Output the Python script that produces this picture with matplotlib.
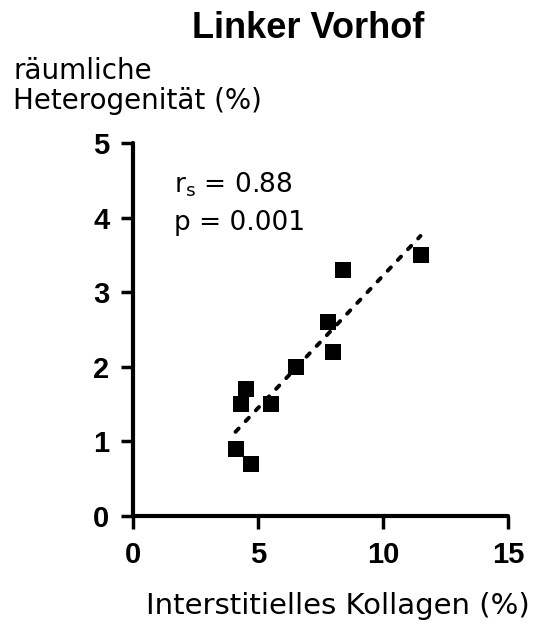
import numpy as np
import matplotlib
matplotlib.use('Agg')
import matplotlib.pyplot as plt

# Interstitial collagen (%) vs spatial heterogeneity (%), left atrium
kollagen = np.array([4.1, 4.7, 4.3, 4.5, 5.5, 6.5, 7.8, 8.0, 8.4, 11.5])
heterogenitaet = np.array([0.9, 0.7, 1.5, 1.7, 1.5, 2.0, 2.6, 2.2, 3.3, 3.5])

x_ticks = [0, 5, 10, 15]
y_ticks = [0, 1, 2, 3, 4, 5]

plt.rcParams['font.family'] = ['DejaVu Sans']

fig = plt.figure(figsize=(5.37, 6.26), dpi=100)
ax = fig.add_axes([0.2477, 0.1757, 0.6983, 0.5959])

# linear fit, drawn between smallest and largest x
slope, intercept = np.polyfit(kollagen, heterogenitaet, 1)
fit_x = np.array([kollagen.min(), kollagen.max()])
ax.plot(fit_x, slope * fit_x + intercept, color='black', lw=2.8,
        linestyle=(0, (1.2, 2.6)), dash_capstyle='round', zorder=2)

ax.plot(kollagen, heterogenitaet, 's', color='black', markersize=11,
        markeredgewidth=0, zorder=3, clip_on=False)

ax.set_xlim(0, 15)
ax.set_ylim(0, 5)
ax.set_xticks(x_ticks)
ax.set_yticks(y_ticks)

tick_font = {'family': 'Liberation Sans', 'weight': 'bold', 'size': 21}
ax.set_xticklabels([str(t) for t in x_ticks], fontdict=tick_font)
ax.set_yticklabels([str(t) for t in y_ticks], fontdict=tick_font)

for side in ['top', 'right']:
    ax.spines[side].set_visible(False)
for side in ['left', 'bottom']:
    ax.spines[side].set_linewidth(3)
    ax.spines[side].set_capstyle('round')
ax.tick_params(width=2.5, length=9, direction='out', pad=9)
ax.tick_params(axis='y', pad=8)

ax.text(1.65, 4.34, r'r$_\mathregular{s}$ = 0.88', fontsize=19, va='baseline')
ax.text(1.65, 3.84, 'p = 0.001', fontsize=19, va='baseline')

fig.text(0.574, 0.954, 'Linker Vorhof', fontsize=26, weight='bold',
         family='Liberation Sans', ha='center', va='center')
fig.text(0.025, 0.862, 'räumliche\nHeterogenität (%)', fontsize=20,
         ha='left', va='center', linespacing=1.1)
fig.text(0.63, 0.032, 'Interstitielles Kollagen (%)', fontsize=21,
         ha='center', va='center')

fig.savefig('out.png', dpi=100)
